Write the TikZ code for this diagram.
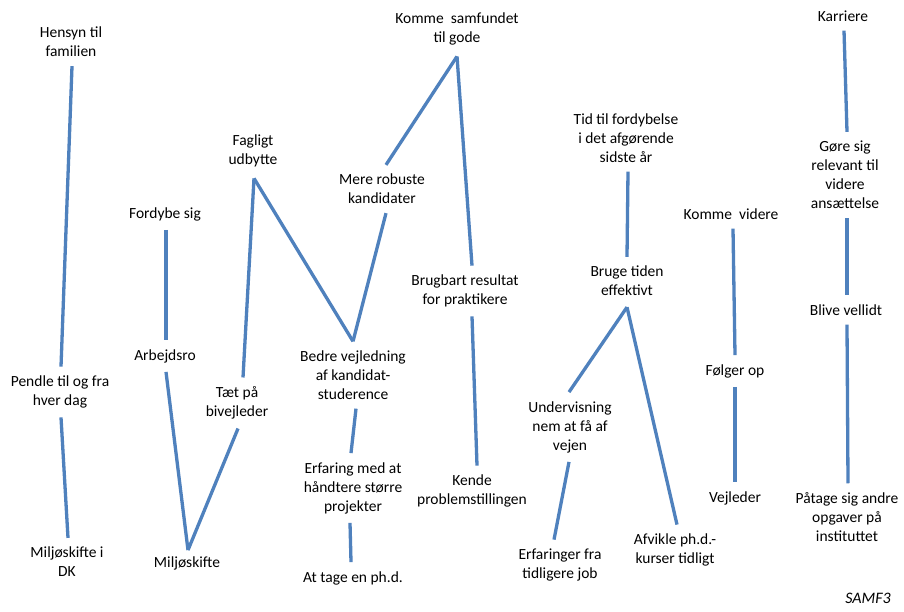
\documentclass[tikz,border=0pt]{standalone}
\usepackage{fontspec}
\setmainfont{Carlito}
\begin{document}
\begin{tikzpicture}[x=1pt,y=-1pt,
  lbl/.style={align=center,inner xsep=2pt,inner ysep=9pt,font=\fontsize{15.5}{19}\selectfont},
  link/.style={draw=linkblue,line width=3.3pt}]
\definecolor{linkblue}{RGB}{79,129,189}
\useasboundingbox[fill=white] (0,0) rectangle (904,612);

% concepts
\node[lbl] (hen)   at (71,42)   {Hensyn til\\familien};
\node[lbl] (pen)   at (60,392)  {Pendle til og fra\\hver dag};
\node[lbl] (mdk)   at (67,562)  {Miljøskifte i\\DK};
\node[lbl] (ford)  at (165,214) {Fordybe sig};
\node[lbl] (arb)   at (165,356) {Arbejdsro};
\node[lbl] (milj)  at (187,563) {Miljøskifte};
\node[lbl] (taet)  at (237,403) {Tæt på\\bivejleder};
\node[lbl] (fag)   at (253,151) {Fagligt\\udbytte};
\node[lbl] (bedre) at (353,375) {Bedre vejledning\\af kandidat-\\studerence};
\node[lbl] (mere)  at (382,189) {Mere robuste\\kandidater};
\node[lbl] (komme) at (457,29)  {Komme\ \ samfundet\\til gode};
\node[lbl] (brug)  at (465,291) {Brugbart resultat\\for praktikere};
\node[lbl] (kende) at (472,491) {Kende\\problemstillingen};
\node[lbl] (erf)   at (353,488) {Erfaring med at\\håndtere større\\projekter};
\node[lbl] (atage) at (353,578) {At tage en ph.d.};
\node[lbl] (tid)   at (626,138) {Tid til fordybelse\\i det afgørende\\sidste år};
\node[lbl] (bruge) at (627,281) {Bruge tiden\\effektivt};
\node[lbl] (underv) at (570,427) {Undervisning\\nem at få af\\vejen};
\node[lbl] (erfj)  at (560,565) {Erfaringer fra\\tidligere job};
\node[lbl] (afv)   at (675,550) {Afvikle ph.d.-\\kurser tidligt};
\node[lbl] (kv)    at (731,214) {Komme\ \ videre};
\node[lbl] (folg)  at (735,371) {Følger op};
\node[lbl] (vejl)  at (735,498) {Vejleder};
\node[lbl] (karr)  at (843,16)  {Karriere};
\node[lbl] (gore)  at (845,175) {Gøre sig\\relevant til\\videre\\ansættelse};
\node[lbl] (blive) at (846,310) {Blive vellidt};
\node[lbl] (paat)  at (847,517) {Påtage sig andre\\opgaver på\\instituttet};
\node[lbl,font=\fontsize{16}{19}\selectfont\itshape,anchor=east] (samf) at (893,598) {SAMF3};

% links
\draw[link] ([xshift=1pt]hen.south) -- ([xshift=1pt]pen.north);
\draw[link] ([xshift=1pt]pen.south) -- ([xshift=1pt]mdk.north);
\draw[link] ([xshift=1pt]ford.south) -- ([xshift=1pt]arb.north);
\draw[link] ([xshift=1pt]arb.south) -- ([xshift=1pt,yshift=-3pt]milj.north);
\draw[link] ([xshift=1pt,yshift=-3pt]milj.north) -- ([xshift=1pt]taet.south);
\draw[link] ([xshift=6pt]taet.north) -- ([xshift=1pt,yshift=-2pt]fag.south);
\draw[link] ([xshift=1pt,yshift=-2pt]fag.south) -- (bedre.north);
\draw[link] (bedre.north) -- ([xshift=4pt]mere.south);
\draw[link] ([xshift=4pt]mere.north) -- ([yshift=-2pt]komme.south);
\draw[link] ([yshift=-2pt]komme.south) -- ([xshift=7pt]brug.north);
\draw[link] ([xshift=7pt]brug.south) -- ([xshift=5pt]kende.north);
\draw[link] ([xshift=3pt]bedre.south) -- ([xshift=-2pt]erf.north);
\draw[link] ([xshift=-3pt]erf.south) -- ([xshift=-2pt]atage.north);
\draw[link] ([xshift=2pt]tid.south) -- (bruge.north);
\draw[link] ([yshift=-2pt]bruge.south) -- ([xshift=-1pt]underv.north);
\draw[link] ([yshift=-2pt]bruge.south) -- ([xshift=2pt]afv.north);
\draw[link] ([xshift=-1pt]underv.south) -- ([xshift=-6pt]erfj.north);
\draw[link] ([xshift=2pt]kv.south) -- (folg.north);
\draw[link] (folg.south) -- (vejl.north);
\draw[link] ([xshift=1pt]karr.south) -- ([xshift=2pt]gore.north);
\draw[link] ([xshift=2pt]gore.south) -- ([xshift=1pt]blive.north);
\draw[link] ([xshift=1pt]blive.south) -- ([xshift=1pt]paat.north);
\end{tikzpicture}
\end{document}
